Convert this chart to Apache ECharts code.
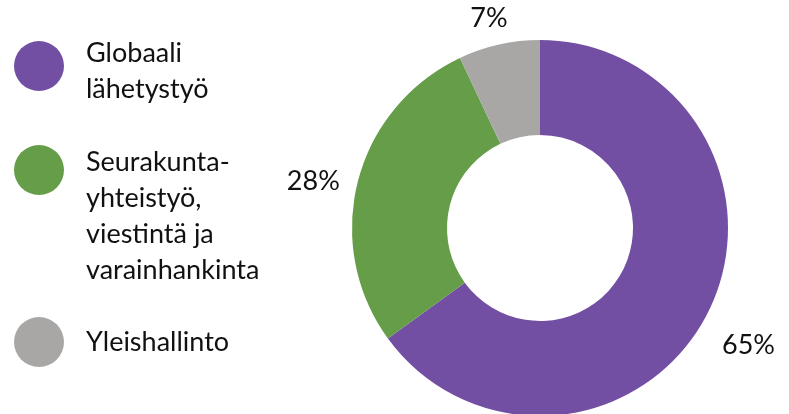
<!DOCTYPE html>
<html>
<head>
<meta charset="utf-8">
<script src="https://cdn.jsdelivr.net/npm/echarts@6/dist/echarts.min.js"></script>
<style>
html,body{margin:0;padding:0;background:#fff;}
#chart{width:789px;height:414px;}
</style>
</head>
<body>
<div id="chart"></div>
<script>
const categories = ['Globaali lähetystyö', 'Seurakunta-yhteistyö, viestintä ja varainhankinta', 'Yleishallinto'];
const legendLines = [['Globaali', 'lähetystyö'], ['Seurakunta-', 'yhteistyö,', 'viestintä ja', 'varainhankinta'], ['Yleishallinto']];
const values = [65, 28, 7];
const colors = ['#734FA3', '#659D48', '#A8A7A6'];

const FONT = 'Lato, "Noto Sans", sans-serif';
const chart = echarts.init(document.getElementById('chart'), null, {renderer: 'canvas'});

// layout tweaks for legend items (icon aligned near first text line)
const legendTops = [25, 52, 317];
const legendShift = [10, 92, 0];

const legends = categories.map((name, i) => ({
  show: true,
  orient: 'vertical',
  left: 14,
  top: legendTops[i],
  padding: 0,
  itemWidth: 50,
  itemHeight: 50,
  icon: 'circle',
  selectedMode: false,
  data: [name],
  formatter: n => {
    const lines = legendLines[categories.indexOf(n)].map(s => '{t|' + s + '}');
    if (legendShift[i] > 0) lines.unshift('{sp| }');
    return lines.join('\n');
  },
  textStyle: {
    fontFamily: FONT,
    fontSize: 27,
    lineHeight: 36,
    color: '#111',
    padding: [0, 0, 0, 17],
    rich: {
      sp: {fontSize: 2, lineHeight: legendShift[i], height: legendShift[i]},
      t: {fontFamily: FONT, fontSize: 27, lineHeight: 36, color: '#111'}
    }
  }
}));

chart.setOption({
  animation: false,
  legend: legends,
  series: [
    {
      type: 'pie',
      center: [540, 228],
      radius: [93, 188],
      startAngle: 90,
      clockwise: true,
      silent: true,
      label: {show: false},
      labelLine: {show: false},
      itemStyle: {borderWidth: 0},
      data: categories.map((name, i) => ({name, value: values[i], itemStyle: {color: colors[i]}}))
    },
    {
      type: 'pie',
      center: [540, 239],
      radius: [211, 251],
      startAngle: 90,
      clockwise: true,
      silent: true,
      itemStyle: {color: 'rgba(0,0,0,0)'},
      label: {
        show: true,
        position: 'inside',
        formatter: p => p.value + '%',
        fontFamily: FONT,
        fontSize: 27,
        color: '#111'
      },
      labelLine: {show: false},
      data: values.map((v, i) => ({name: 'lbl' + i, value: v, label: i === 2 ? {offset: [0, 8]} : {}}))
    }
  ]
});
</script>
</body>
</html>
